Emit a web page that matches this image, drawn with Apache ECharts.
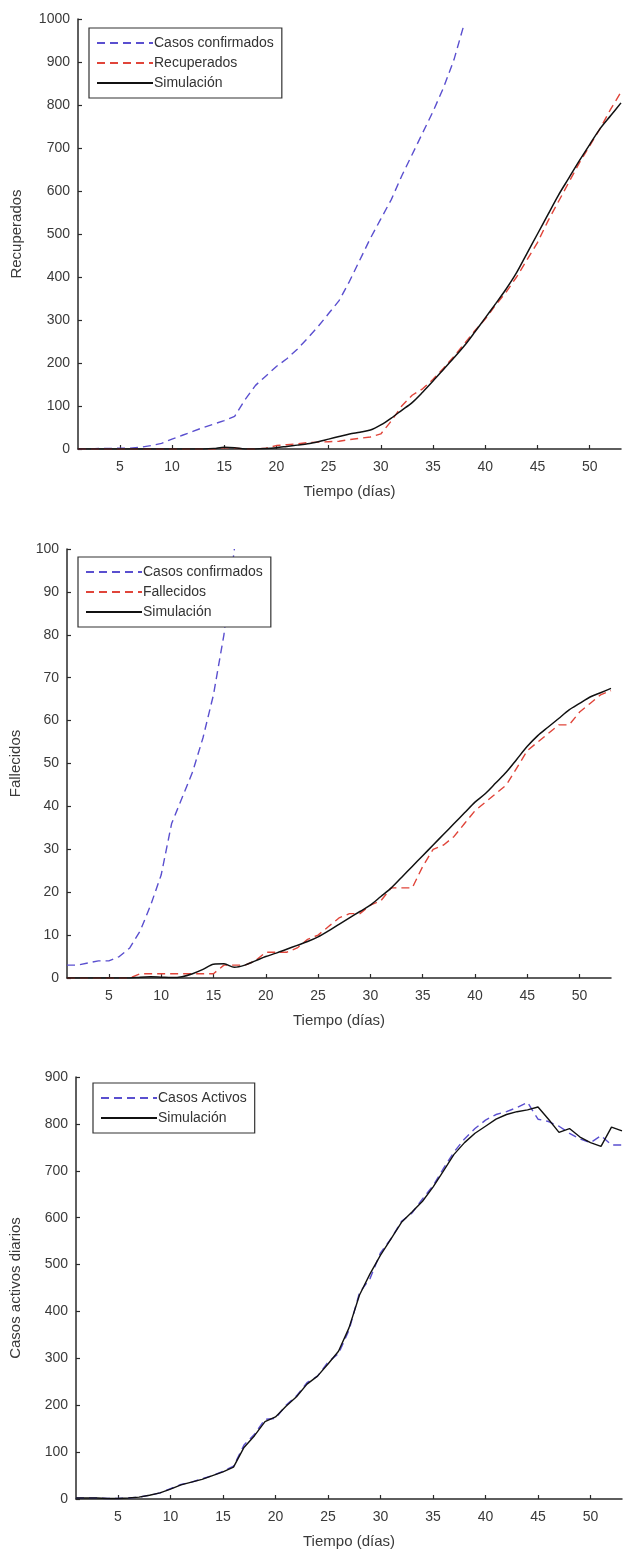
<!DOCTYPE html>
<html>
<head>
<meta charset="utf-8">
<script src="https://cdn.jsdelivr.net/npm/echarts@6/dist/echarts.min.js"></script>
<style>
html,body{margin:0;padding:0;background:#fff;}
#c{width:624px;height:1557px;}
</style>
</head>
<body>
<div id="c"></div>
<script>
// ---------- DATA ----------
const days = [1,2,3,4,5,6,7,8,9,10,11,12,13,14,15,16,17,18,19,20,21,22,23,24,25,26,27,28,29,30,31,32,33,34,35,36,37,38,39,40,41,42,43,44,45,46,47,48,49,50,51,52,53];
const xTickValues = [5,10,15,20,25,30,35,40,45,50];

// Chart 1: Recuperados
const confirmed1 = [0,0,1,1,2,2,4,8,13,23,32,41,50,58,66,76,115,148,170,192,210,232,258,285,315,345,390,440,490,535,580,635,685,735,785,840,905,990];
const recovered = [0,0,0,0,0,0,0,0,0,0,0,0,0,0,3,2,0,0,2,8,10,12,15,16,17,18,22,25,28,35,65,100,125,140,162,188,215,245,275,302,335,365,400,440,480,530,575,620,665,705,745,790,830];
const sim1 = [0,0,0,0,0,0,0,0,0,0,0,0,0,1,4,3,0,0,1,3,6,9,12,17,23,29,35,39,44,56,72,90,108,132,158,185,212,240,272,305,338,372,410,455,500,545,590,630,670,708,745,775,805];

// Chart 2: Fallecidos
const confirmed2 = [3,3,3.5,4,4,5,7,11,17,24,36,42,48,56,66,80,100];
const deaths = [0,0,0,0,0,0,0,1,1,1,1,1,1,1,1,3,3,3,4,6,6,6,7,9,10,12,14,15,15,17,18,21,21,21,26,30,31,33,36,39,41,43,45,49,53,55,57,59,59,62,64,66,67];
const sim2 = [0,0,0,0,0,0,0,0.2,0.3,0.2,0.1,0.3,1,2,3.2,3.3,2.5,3,4,5,5.8,6.7,7.6,8.5,9.6,11,12.5,14,15.5,17,19,21,23.5,26,28.5,31,33.5,36,38.5,41,43,45.5,48,51,54,56.5,58.5,60.5,62.5,64,65.5,66.5,67.5];

// Chart 3: Casos activos
const active = [2,2,2,1,1,2,4,8,13,22,31,36,43,50,59,70,115,138,170,172,200,220,248,262,292,310,360,440,470,525,555,592,610,640,668,705,740,768,790,808,820,826,835,846,810,805,795,780,768,760,775,755,755];
const sim3 = [2,2,2,1,1,2,4,8,13,21,30,36,42,50,58,68,110,135,165,175,198,218,245,262,288,315,365,435,480,520,555,590,612,635,665,700,735,760,780,795,810,820,826,830,836,810,782,790,772,760,752,793,785];

// ---------- helpers ----------
function pairs(xs, ys){ return ys.map((v,i)=>[xs[i], v]); }

const FONT = 'Liberation Sans';
const axisColor = '#2a2a2a';
const labelColor = '#3a3a3a';
const BLUE = '#5a4fcf';
const RED = '#e0453a';
const BLACK = '#111111';

function xAxis(gi){
  return {
    type:'value', gridIndex:gi, min:1, max:53,
    name:'Tiempo (días)', nameLocation:'middle', nameGap:35,
    nameTextStyle:{fontFamily:FONT, fontSize:15, color:labelColor},
    axisLine:{show:true, onZero:false, lineStyle:{color:axisColor, width:1.5}},
    axisTick:{show:true, inside:true, length:4, customValues:xTickValues, lineStyle:{color:axisColor, width:1.2}},
    axisLabel:{customValues:xTickValues, margin:11, fontFamily:FONT, fontSize:14, color:labelColor},
    splitLine:{show:false}
  };
}
function yAxis(gi, max, interval, name, gap){
  return {
    type:'value', gridIndex:gi, min:0, max:max, interval:interval,
    name:name, nameLocation:'middle', nameGap:gap, nameRotate:90,
    nameTextStyle:{fontFamily:FONT, fontSize:15, color:labelColor},
    axisLine:{show:true, onZero:false, lineStyle:{color:axisColor, width:1.5}},
    axisTick:{show:true, inside:true, length:4, lineStyle:{color:axisColor, width:1.2}},
    axisLabel:{margin:8, fontFamily:FONT, fontSize:14, color:labelColor, formatter:(v)=>String(v)},
    splitLine:{show:false}
  };
}
function line(name, gi, data, color, dashed, width, smooth){
  return {
    name:name, type:'line', xAxisIndex:gi, yAxisIndex:gi,
    data:data, symbol:'none', smooth:smooth||false, clip:true,
    lineStyle:{color:color, width:width||1.4, type: dashed ? [8,5] : 'solid'},
    itemStyle:{color:color},
    emphasis:{disabled:true}, animation:false, z: dashed ? 2 : 3
  };
}
function legend(names, left, top){
  return {
    data:names, left:left, top:top, orient:'vertical',
    itemWidth:56, itemHeight:12, itemGap:6,
    padding:[8,8,8,7], borderColor:'#333', borderWidth:1.2,
    backgroundColor:'#fff', selectedMode:false,
    itemStyle:{opacity:0, borderWidth:0},
    textStyle:{fontFamily:FONT, fontSize:14, color:'#333', padding:[0,0,0,-4]}
  };
}

const chart = echarts.init(document.getElementById('c'), null, {renderer:'canvas'});
chart.setOption({
  backgroundColor:'#fff',
  animation:false,
  grid:[
    {left:78, right:3, top:19, height:430},
    {left:65, right:13, top:549, height:429},
    {left:76, right:2, top:1077, height:422}
  ],
  xAxis:[xAxis(0), xAxis(1), xAxis(2)],
  yAxis:[
    yAxis(0, 1000, 100, 'Recuperados', 54),
    yAxis(1, 100, 10, 'Fallecidos', 44),
    yAxis(2, 900, 100, 'Casos activos diarios', 53)
  ],
  legend:[
    legend(['Casos confirmados','Recuperados','Simulación'], 89, 28),
    legend(['Casos confirmados','Fallecidos','Simulación'], 78, 557),
    legend(['Casos Activos','Simulación'], 93, 1083)
  ],
  series:[
    line('Casos confirmados', 0, pairs(days, confirmed1), BLUE, true),
    line('Recuperados', 0, pairs(days, recovered), RED, true),
    line('Simulación', 0, pairs(days, sim1), BLACK, false, 1.5, 0.3),
    line('Casos confirmados', 1, pairs(days, confirmed2), BLUE, true),
    line('Fallecidos', 1, pairs(days, deaths), RED, true),
    line('Simulación', 1, pairs(days, sim2), BLACK, false, 1.5, 0.3),
    line('Casos Activos', 2, pairs(days, active), BLUE, true),
    line('Simulación', 2, pairs(days, sim3), BLACK, false, 1.4)
  ]
});
</script>
</body>
</html>
